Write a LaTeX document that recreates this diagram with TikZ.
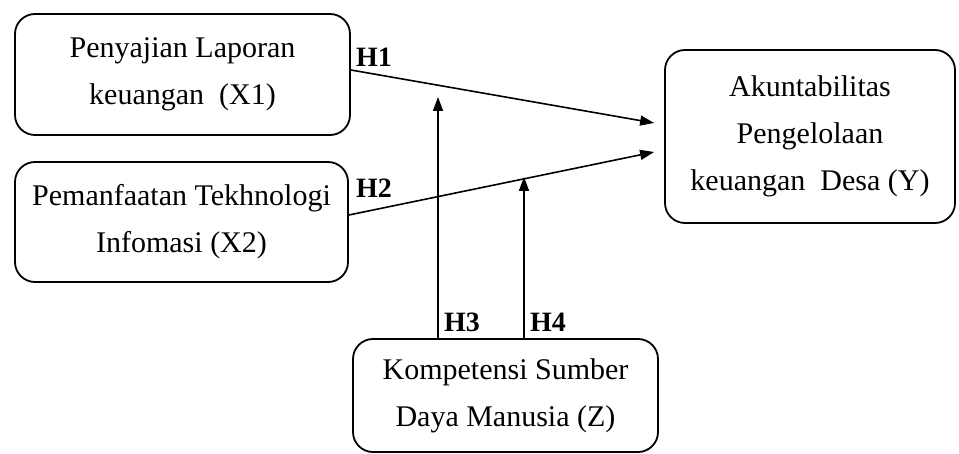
\documentclass[tikz,border=0pt]{standalone}
\usepackage{fontspec}
\setmainfont{Liberation Serif}
\usetikzlibrary{arrows.meta}

\begin{document}
\begin{tikzpicture}[x=0.5pt,y=-0.5pt,
  box/.style={draw,line width=0.9pt,rounded corners=10pt,align=center,inner sep=0pt,
    font=\fontsize{15}{23.5}\selectfont},
  arr/.style={line width=0.8pt,-{Triangle[length=7pt,width=5pt]}},
  hyp/.style={font=\fontsize{14}{16}\selectfont\bfseries}]

\useasboundingbox (0,0) rectangle (959,454);

\node[box,minimum width=167.5pt,minimum height=60.5pt] (x1) at (182.5,74.5) {Penyajian Laporan\\keuangan~~(X1)};
\node[box,minimum width=166.5pt,minimum height=60pt] (x2) at (181.5,222) {Pemanfaatan Tekhnologi\\Infomasi (X2)};
\node[box,minimum width=145pt,minimum height=86.5pt] (y) at (810,136.5) {Akuntabilitas\\Pengelolaan\\keuangan~~Desa (Y)};
\node[box,minimum width=152.5pt,minimum height=56.5pt] (z) at (505.5,395.5) {Kompetensi Sumber\\Daya Manusia (Z)};

\coordinate (m3) at (438,97);
\coordinate (m4) at (524,177);

\draw[arr] ([yshift=2.25pt]x1.east) -- ([xshift=-5pt,yshift=6.75pt]y.west);
\draw[arr] ([yshift=3.5pt]x2.east) -- ([xshift=-5pt,yshift=-7.75pt]y.west);
\draw[arr] (z.north -| m3) -- (m3);
\draw[arr] (z.north -| m4) -- (m4);

\node[hyp] (h1) at (374,57) {H1};
\node[hyp] (h2) at (374,188) {H2};
\node[hyp] (h3) at (462,322) {H3};
\node[hyp] (h4) at (548,322) {H4};
\end{tikzpicture}
\end{document}
